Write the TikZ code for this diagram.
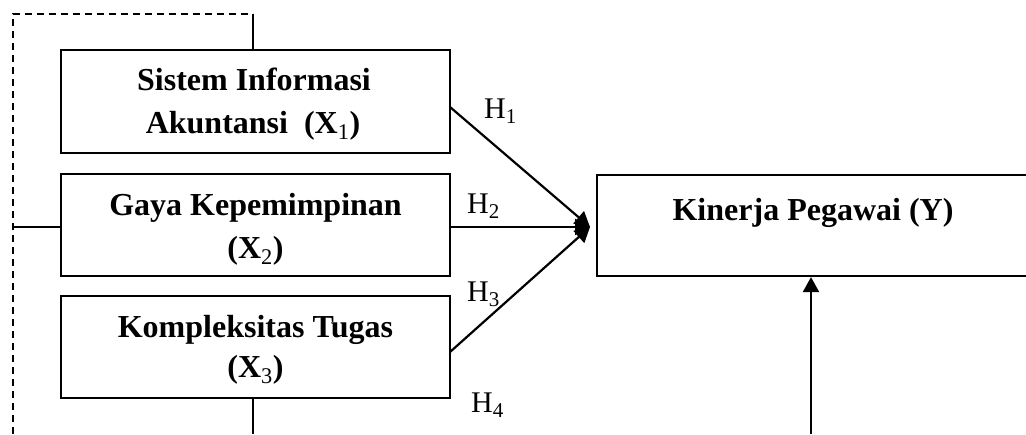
\documentclass[tikz,border=0pt]{standalone}
\usepackage{fontspec}
\setmainfont{Liberation Serif}
\usetikzlibrary{arrows.meta}
\begin{document}
\begin{tikzpicture}[x=1pt,y=-1pt,
  box/.style={draw,line width=2.2pt,minimum width=389pt,inner sep=0pt},
  txt/.style={font=\fontsize{32}{38}\selectfont\bfseries,inner sep=0pt,anchor=base},
  conn/.style={line width=2.2pt},
  dashline/.style={line width=2.2pt,dash pattern=on 7pt off 5pt},
  hyp/.style={font=\fontsize{30}{34}\selectfont,inner sep=0pt,anchor=base west},
  tipped/.style={-{Triangle[length=15pt,width=16pt]}}]
\useasboundingbox (0,0) rectangle (1026,434);
\clip (0,0) rectangle (1026,434);
\node[box,minimum height=103pt] (x1) at (255.5,101.5) {};
\node[box,minimum height=102pt] (x2) at (255.5,225) {};
\node[box,minimum height=102pt] (x3) at (255.5,347) {};
\node[box,minimum width=443pt,minimum height=101pt] (y) at (818.5,225.5) {};
\node[txt] (t1a) at (254,90) {Sistem Informasi};
\node[txt] (t1b) at (253,133) {Akuntansi~~(X\textsubscript{\mdseries 1})};
\node[txt] (t2a) at (255.5,215) {Gaya Kepemimpinan};
\node[txt] (t2b) at (255.5,258) {(X\textsubscript{\mdseries 2})};
\node[txt] (t3a) at (255.5,337) {Kompleksitas Tugas};
\node[txt] (t3b) at (255.5,377) {(X\textsubscript{\mdseries 3})};
\node[txt] (ty) at (813,220) {Kinerja Pegawai (Y)};
\coordinate (tp) at (590,227);
\coordinate (dtl) at (13,14);
\coordinate (dtr) at (253,14);
\coordinate (dbl) at (13,434);
\coordinate (bot3) at (253,434);
\coordinate (boty) at (811,434);
\coordinate (mid2) at (13,227);
% dashed frame
\draw[dashline] (dbl) -- (dtl) -- (dtr);
\draw[conn] (dtr) -- (x1.north -| dtr);
\draw[conn] (mid2) -- (x2.west |- mid2);
\draw[conn] (x3.south -| bot3) -- (bot3);
% hypotheses
\draw[conn,tipped] (450,107) -- (tp);
\draw[conn,tipped] (x2.east |- tp) -- (tp);
\draw[conn,tipped] (450,352) -- (tp);
\draw[conn,tipped] (boty) -- (y.south -| boty);
\node[hyp] (h1) at (484,118) {H\textsubscript{1}};
\node[hyp] (h2) at (467,213) {H\textsubscript{2}};
\node[hyp] (h3) at (467,301) {H\textsubscript{3}};
\node[hyp] (h4) at (471,412) {H\textsubscript{4}};
\end{tikzpicture}
\end{document}
